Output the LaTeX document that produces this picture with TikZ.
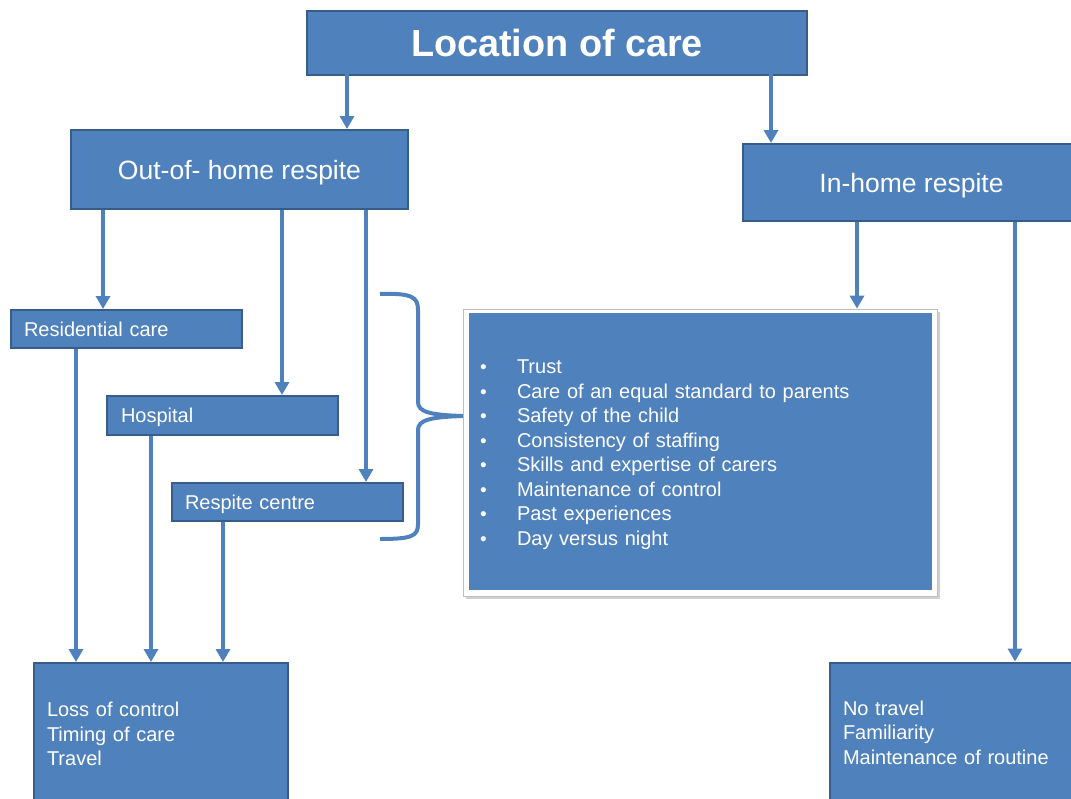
\documentclass[tikz,border=0pt]{standalone}
\usepackage{fontspec}
\setmainfont{Liberation Sans}
\usetikzlibrary{arrows.meta,calc}
\definecolor{boxfill}{RGB}{79,129,189}
\definecolor{boxline}{RGB}{56,93,138}
\newcommand{\bul}{\makebox[37pt][l]{\fontsize{19}{19}\selectfont •}}
\begin{document}
\begin{tikzpicture}[x=1pt,y=-1pt,
  box/.style={draw=boxline, line width=2pt, fill=boxfill, text=white, inner sep=0pt},
  arr/.style={draw=boxfill, line width=4pt, -{Triangle[width=14pt,length=13pt]}},
  con/.style={draw=boxfill, line width=4pt},
  head/.style={font=\fontsize{26.5}{30}\selectfont, text depth=0pt},
  small/.style={font=\fontsize{20}{24.5}\selectfont, align=left},
  one/.style={text depth=0pt}
]
\useasboundingbox (0,0) rectangle (1071,798);

% main boxes
\node[box, minimum width=500pt, minimum height=64pt, font=\fontsize{37.8}{40}\selectfont\bfseries, text depth=0pt] (top) at (557,43) {Location of care};
\node[box, head, minimum width=337pt, minimum height=79pt] (outb) at (239.5,169.5) {Out-of- home respite};
\node[box, head, minimum width=337pt, minimum height=77pt] (inb) at (911.5,182.5) {In-home respite};

% sub boxes
\node[box, small, one, minimum width=231pt, minimum height=38pt, text width=205pt] (res) at (126.5,329) {Residential care};
\node[box, small, one, minimum width=231pt, minimum height=39pt, text width=203pt] (hosp) at (222.5,415.5) {Hospital};
\node[box, small, one, minimum width=231pt, minimum height=38pt, text width=205pt] (resp) at (287.5,502) {Respite centre};

% bottom boxes
\node[box, small, minimum width=254pt, minimum height=142pt, text width=228pt] (bl) at (161,734) {Loss of control\\Timing of care\\Travel};
\node[box, small, minimum width=255pt, minimum height=140pt, text width=229pt] (br) at (957.5,732.5) {No travel\\Familiarity\\Maintenance of routine};

% bullet box
\fill[black!18] (466,312) rectangle (939.5,598.5);
\node[draw=black!25, line width=0.8pt, fill=white, minimum width=474pt, minimum height=287pt, inner sep=0pt] (bulo) at (700,452.5) {};
\node[fill=boxfill, inner sep=0pt, minimum width=463pt, minimum height=277pt] (bul) at (700.5,451.5) {};
\node[text=white, inner sep=0pt, text width=441pt, small] (bult) at (700.5,454.5) {%
\bul Trust\\
\bul Care of an equal standard to parents\\
\bul Safety of the child\\
\bul Consistency of staffing\\
\bul Skills and expertise of carers\\
\bul Maintenance of control\\
\bul Past experiences\\
\bul Day versus night};

% x positions of connectors
\coordinate (t1) at (347,62);
\coordinate (t2) at (771,65);
\coordinate (o1) at (103,0);
\coordinate (o2) at (282,0);
\coordinate (o3) at (366,0);
\coordinate (d1) at (76,0);
\coordinate (d2) at (151,0);
\coordinate (d3) at (223,0);
\coordinate (i1) at (857,0);
\coordinate (i2) at (1015,0);
\coordinate (bt) at (463,416);

% connectors
\draw[arr] (t1) -- (t1 |- outb.north);
\draw[arr] (t2) -- (t2 |- inb.north);
\draw[arr] (o1 |- outb.south) -- (o1 |- res.north);
\draw[arr] (o2 |- outb.south) -- (o2 |- hosp.north);
\draw[arr] (o3 |- outb.south) -- (o3 |- resp.north);
\draw[arr] (d1 |- res.south) -- (d1 |- bl.north);
\draw[arr] (d2 |- hosp.south) -- (d2 |- bl.north);
\draw[arr] (d3 |- resp.south) -- (d3 |- bl.north);
\draw[arr] (i1 |- inb.south) -- (i1 |- bulo.north);
\draw[arr] (i2 |- inb.south) -- (i2 |- br.north);

% brace
\draw[con] (380,294) .. controls (412,293) and (418,297) .. (418,310) -- (418,402)
  .. controls (418,412) and (430,415) .. (bt)
  .. controls (430,417) and (418,420) .. (418,430) -- (418,524)
  .. controls (418,536) and (412,539) .. (380,539);
\end{tikzpicture}
\end{document}
